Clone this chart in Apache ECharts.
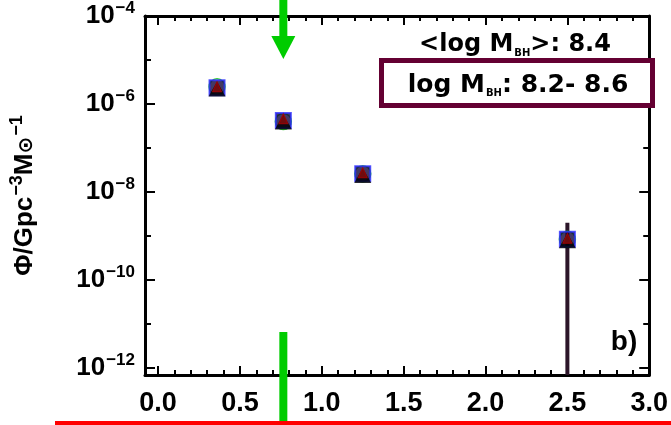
<!DOCTYPE html>
<html><head><meta charset="utf-8">
<script src="https://cdn.jsdelivr.net/npm/echarts@6/dist/echarts.min.js"></script>
<style>html,body{margin:0;padding:0;background:#fff}#c{width:671px;height:425px}</style>
</head><body><div id="c"></div>
<script>
// ---- data ----
const X_LABELS = [0.0, 0.5, 1.0, 1.5, 2.0, 2.5, 3.0];
const X_MINOR = [0.1,0.2,0.3,0.4,0.6,0.7,0.8,0.9,1.1,1.2,1.3,1.4,1.6,1.7,1.8,1.9,2.1,2.2,2.3,2.4,2.6,2.7,2.8,2.9];
const Y_MAJOR = [1e-12, 1e-10, 1e-8, 1e-6, 1e-4];
const Y_MINOR = [1e-11, 1e-9, 1e-7, 1e-5];
const xBins = [0.36, 0.765, 1.25, 2.5];
const phiBlue  = [2.34e-6, 4.2e-7, 2.6e-8, 8.4e-10];
const phiBlack = [2.30e-6, 4.1e-7, 2.5e-8, 8.2e-10];
const phiRed   = [2.34e-6, 4.4e-7, 2.6e-8, 8.4e-10];
const phiGreen = [2.45e-6, 4.0e-7, 2.6e-8, 8.4e-10];
const errX = [2.5];
const errHigh = [2.0e-9];
const errLow = [1e-14];
const ARROW_X = 0.765;
const TXT_MEAN = '<log M{s|BH}>: 8.4';
const TXT_RANGE = 'log M{s|BH}: 8.2- 8.6';
const PANEL = 'b)';

const FONT = 'Liberation Sans';
const FONT2 = 'DejaVu Sans';
const pairs = (xs, ys) => xs.map((x, i) => [x, ys[i]]);

const chart = echarts.init(document.getElementById('c'), null, {renderer: 'canvas'});

const axisLine = {show: true, onZero: false, lineStyle: {color: '#000', width: 3}};
const noLine = {show: false, onZero: false};
const tickStyle = {width: 2, color: '#000'};
const xCommon = {type: 'value', min: -0.08, max: 3.0, splitLine: {show: false}};
const yCommon = {type: 'log', logBase: 10, min: Math.pow(10, -12.16), max: 1e-4, splitLine: {show: false}};

const option = {
  animation: false,
  backgroundColor: '#fff',
  grid: {left: 145, top: 15, right: 17, bottom: 50, containLabel: false},
  xAxis: [
    Object.assign({}, xCommon, {position: 'bottom', axisLine,
      axisTick: {show: true, inside: true, length: 9, lineStyle: tickStyle, customValues: X_LABELS},
      axisLabel: {show: true, customValues: X_LABELS, margin: 15, color: '#000', fontFamily: FONT, fontWeight: 'bold', fontSize: 27,
        formatter: v => v.toFixed(1)}}),
    Object.assign({}, xCommon, {position: 'bottom', axisLine: noLine,
      axisTick: {show: true, inside: true, length: 5, lineStyle: tickStyle, customValues: X_MINOR},
      axisLabel: {show: false}}),
    Object.assign({}, xCommon, {position: 'top', axisLine,
      axisTick: {show: true, inside: true, length: 9, lineStyle: tickStyle, customValues: X_LABELS},
      axisLabel: {show: false}}),
    Object.assign({}, xCommon, {position: 'top', axisLine: noLine,
      axisTick: {show: true, inside: true, length: 5, lineStyle: tickStyle, customValues: X_MINOR},
      axisLabel: {show: false}})
  ],
  yAxis: [
    Object.assign({}, yCommon, {position: 'left', axisLine,
      axisTick: {show: true, inside: true, length: 10, lineStyle: tickStyle, customValues: Y_MAJOR},
      axisLabel: {show: true, customValues: Y_MAJOR, margin: 10, color: '#000',
        formatter: v => '{b|10}{s|\u2212' + Math.round(-Math.log10(v)) + '}',
        rich: {
          b: {fontFamily: FONT, fontWeight: 'bold', fontSize: 26, color: '#000'},
          s: {fontFamily: FONT, fontWeight: 'bold', fontSize: 17, color: '#000', padding: [0, 0, 15, 1]}
        }},
      name: '\u03A6/Gpc{s|\u22123}M{o|\u2299}{s|\u22121}',
      nameLocation: 'middle', nameRotate: 90, nameGap: 104,
      nameTextStyle: {fontFamily: FONT, fontWeight: 'bold', fontSize: 26, color: '#000',
        rich: {
          s: {fontFamily: FONT, fontWeight: 'bold', fontSize: 18, color: '#000', padding: [0, 0, 15, 1]},
          o: {fontFamily: FONT2, fontWeight: 'bold', fontSize: 20, color: '#000', padding: [4, 0, 0, 0]}
        }}}),
    Object.assign({}, yCommon, {position: 'left', axisLine: noLine,
      axisTick: {show: true, inside: true, length: 6, lineStyle: tickStyle, customValues: Y_MINOR},
      axisLabel: {show: false}}),
    Object.assign({}, yCommon, {position: 'right', axisLine,
      axisTick: {show: true, inside: true, length: 10, lineStyle: tickStyle, customValues: Y_MAJOR},
      axisLabel: {show: false}}),
    Object.assign({}, yCommon, {position: 'right', axisLine: noLine,
      axisTick: {show: true, inside: true, length: 6, lineStyle: tickStyle, customValues: Y_MINOR},
      axisLabel: {show: false}})
  ],
  series: [
    {
      type: 'custom', name: 'error', clip: true, z: 2,
      data: errX.map((x, i) => [x, errLow[i], errHigh[i]]),
      renderItem(params, api) {
        const p1 = api.coord([api.value(0), api.value(1)]);
        const p2 = api.coord([api.value(0), api.value(2)]);
        return {type: 'line', shape: {x1: p1[0], y1: p1[1], x2: p2[0], y2: p2[1]},
          style: {stroke: '#2c1529', lineWidth: 4}};
      }
    },
    {type: 'scatter', name: 'green', data: pairs(xBins, phiGreen), symbol: 'circle', symbolSize: 16, z: 3,
      itemStyle: {color: 'rgba(0,0,0,0)', borderColor: '#00c000', borderWidth: 1.5}},
    {type: 'scatter', name: 'blue', data: pairs(xBins, phiBlue), symbol: 'rect', symbolSize: 15, z: 4,
      itemStyle: {color: '#14083c', borderColor: '#2a2aff', borderWidth: 2}},
    {type: 'scatter', name: 'black', data: pairs(xBins, phiBlack), symbol: 'triangle', symbolSize: [17, 15], symbolOffset: [0, 1], z: 5,
      itemStyle: {color: '#000'}},
    {type: 'scatter', name: 'red', data: pairs(xBins, phiRed), symbol: 'triangle', symbolSize: [9, 10], symbolOffset: [0, -1], z: 6,
      itemStyle: {color: '#8a0c0c', borderColor: '#b00000', borderWidth: 1}}
  ]
};
chart.setOption(option);

const ax = chart.convertToPixel({xAxisIndex: 0}, ARROW_X);
const green = '#00cc00';
chart.setOption({
  graphic: [
    {type: 'rect', shape: {x: 381.5, y: 60.5, width: 271, height: 45}, z: 50,
      style: {fill: '#fff', stroke: '#640032', lineWidth: 5}},
    {type: 'text', x: 515, y: 45, z: 60,
      style: {text: TXT_MEAN, align: 'center', verticalAlign: 'middle', fontFamily: FONT2, fontWeight: 'bold', fontSize: 24, fill: '#000',
        rich: {s: {fontFamily: FONT2, fontWeight: 'bold', fontSize: 10, fill: '#000', padding: [16, 0, 0, 1]}}}},
    {type: 'text', x: 518, y: 85, z: 60,
      style: {text: TXT_RANGE, align: 'center', verticalAlign: 'middle', fontFamily: FONT2, fontWeight: 'bold', fontSize: 25, fill: '#000',
        rich: {s: {fontFamily: FONT2, fontWeight: 'bold', fontSize: 10, fill: '#000', padding: [16, 0, 0, 1]}}}},
    {type: 'text', x: 624, y: 342, z: 60,
      style: {text: PANEL, align: 'center', verticalAlign: 'middle', fontFamily: FONT, fontWeight: 'bold', fontSize: 28, fill: '#000'}},
    {type: 'rect', shape: {x: ax - 4, y: 0, width: 8, height: 37}, z: 70, style: {fill: green}},
    {type: 'polygon', shape: {points: [[ax - 12, 36], [ax + 12, 36], [ax, 59]]}, z: 70, style: {fill: green}},
    {type: 'rect', shape: {x: ax - 4, y: 332, width: 8, height: 93}, z: 70, style: {fill: green}},
    {type: 'rect', shape: {x: 55, y: 421, width: 616, height: 4}, z: 80, style: {fill: '#ff0000'}}
  ]
});
</script>
</body></html>
